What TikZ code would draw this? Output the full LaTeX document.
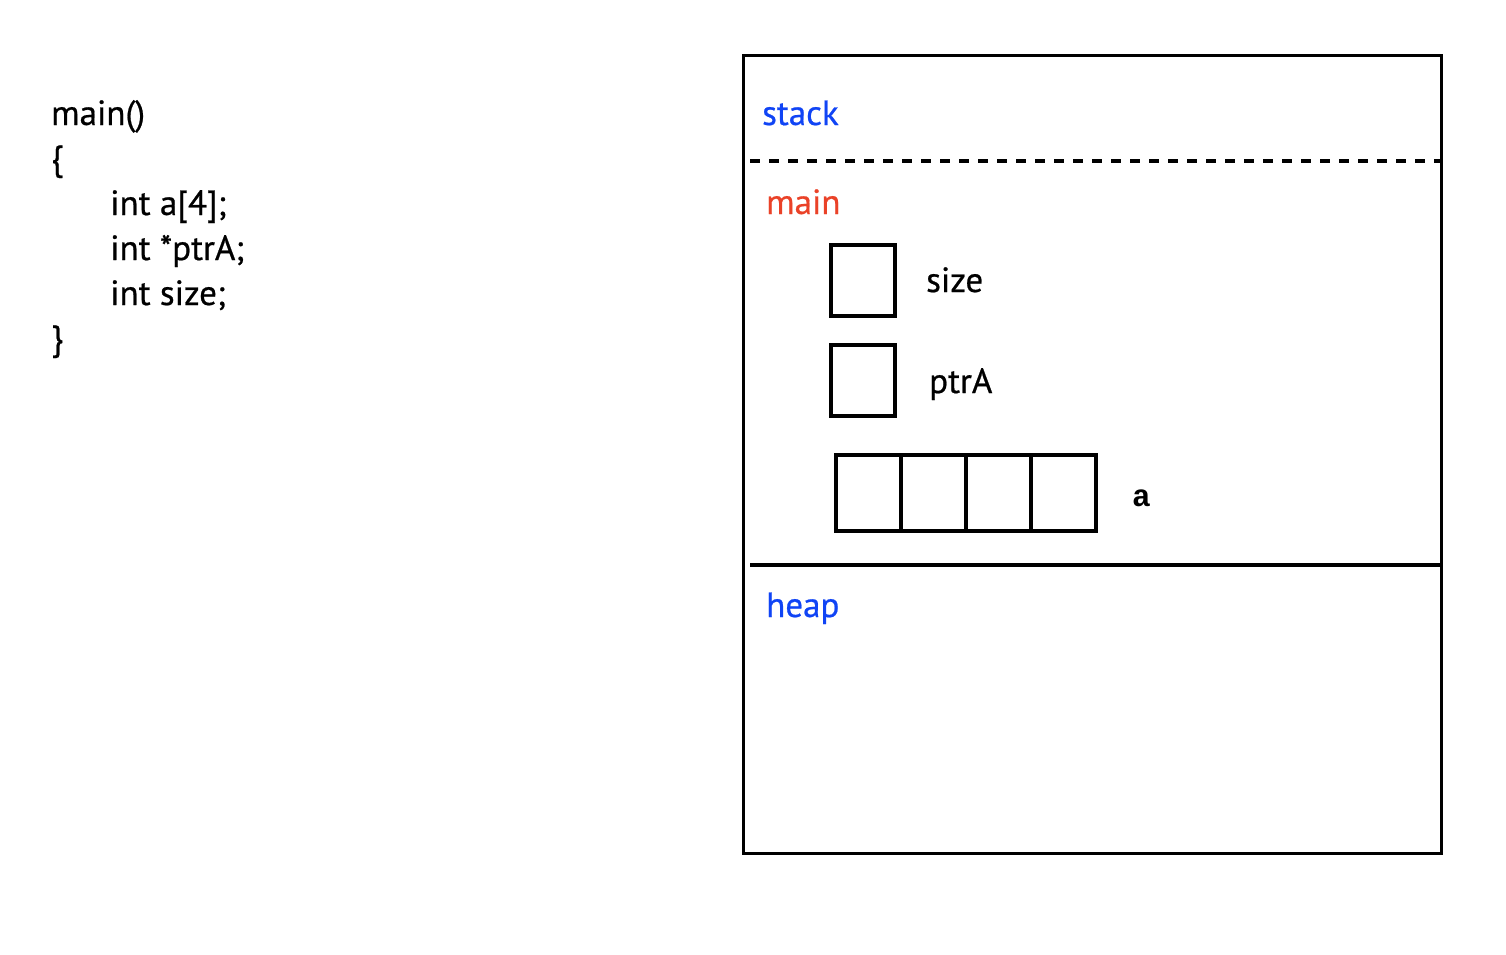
\documentclass[tikz,border=0pt]{standalone}
\usepackage{fontspec}
\setmainfont{PT Sans}[FakeBold=0.6]
\newfontfamily\labelmono{Liberation Mono}
\definecolor{stackblue}{RGB}{16,68,245}
\definecolor{mainred}{RGB}{234,66,40}
\begin{document}
\begin{tikzpicture}[x=1pt,y=-1pt,
  txt/.style={anchor=base west, inner sep=0pt, font=\fontsize{35}{40}\selectfont},
  cell/.style={draw, line width=3.5pt, inner sep=0pt, minimum width=64pt, minimum height=71pt, anchor=north west},
  acell/.style={draw, line width=3.5pt, inner sep=0pt, minimum width=65pt, minimum height=76pt, anchor=north west},
  frame/.style={draw, line width=3pt, inner sep=0pt, anchor=north west}]
\useasboundingbox (0,0) rectangle (1506,954);
% code
\node[txt] (l1) at (51,125) {main()};
\node[txt] (l2) at (51,170) {\{};
\node[txt] (l3) at (110,215) {int a[4];};
\node[txt] (l4) at (110,260) {int *ptrA;};
\node[txt] (l5) at (110,305) {int size;};
\node[txt] (l6) at (51,350) {\}};
% memory frame
\node[frame, minimum width=698pt, minimum height=798pt] (mem) at (742,54) {};
\coordinate (dl) at (750,161);
\coordinate (dr) at (1440,161);
\draw[line width=3.5pt, dash pattern=on 10pt off 9pt] (dl) -- (dr);
\coordinate (sl) at (750,565);
\coordinate (sr) at (1441,565);
\draw[line width=4pt] (sl) -- (sr);
\node[txt, text=stackblue] (stack) at (762,125) {stack};
\node[txt, text=mainred] (main) at (766,214) {main};
\node[txt, text=stackblue] (heap) at (766,617) {heap};
% variables
\node[cell] (size) at (829,243) {};
\node[txt] (sizel) at (926,292) {size};
\node[cell] (ptr) at (829,343) {};
\node[txt] (ptrl) at (929,393) {ptrA};
\node[acell] (a0) at (834,453) {};
\node[acell] (a1) at (899,453) {};
\node[acell] (a2) at (964,453) {};
\node[acell] (a3) at (1029,453) {};
\node[anchor=base west, inner sep=0pt, font=\labelmono\bfseries\fontsize{31}{36}\selectfont] (al) at (1132,506) {a};
\end{tikzpicture}
\end{document}
